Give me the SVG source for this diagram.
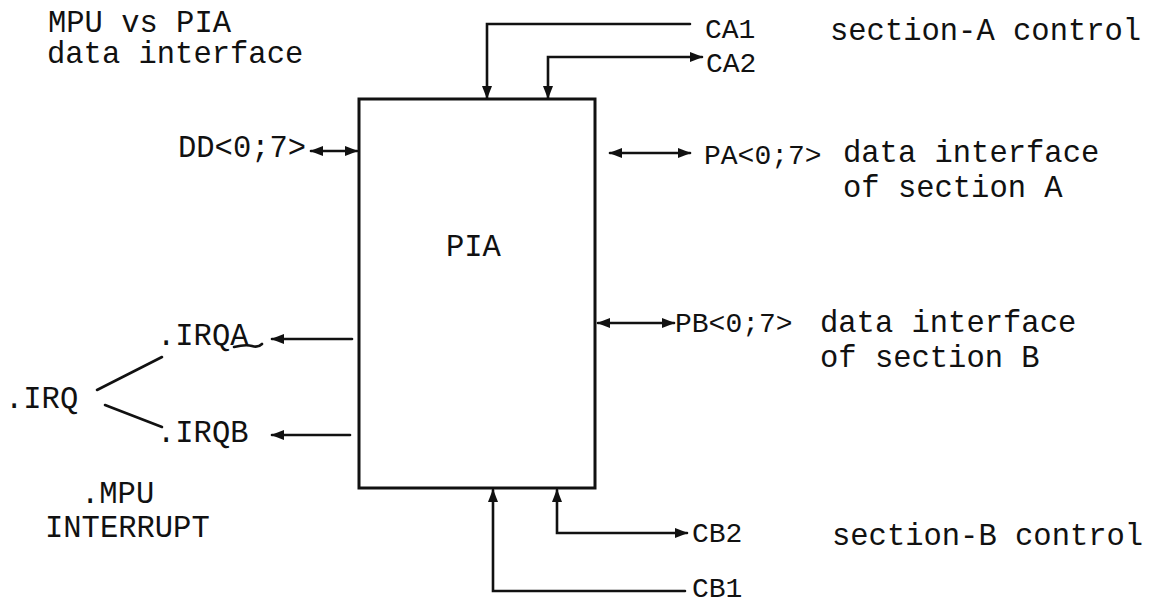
<svg xmlns="http://www.w3.org/2000/svg" width="1168" height="609" viewBox="0 0 1168 609">
<style>
text{font-family:"Liberation Mono","DejaVu Sans Mono",monospace;font-size:30.5px;fill:#111}
text.sm{font-size:28px}
.ln{fill:none;stroke:#111;stroke-width:2.6;stroke-linecap:round;stroke-linejoin:miter}
</style>
<defs>
<marker id="ah" viewBox="0 0 13 11" refX="12" refY="5.5" markerWidth="13" markerHeight="11" markerUnits="userSpaceOnUse" orient="auto-start-reverse">
<path d="M0,0.5 L13,5.5 L0,10.5 Z" fill="#111"/>
</marker>
</defs>
<rect width="1168" height="609" fill="#fff"/>
<g id="pia">
<rect x="359" y="99" width="236" height="389" fill="none" stroke="#111" stroke-width="3"/>
<text x="446" y="256">PIA</text>
</g>
<g id="connectors">
<path class="ln" d="M690,24 H487 V98" marker-end="url(#ah)"/>
<path class="ln" d="M548,98 V57 H702" marker-start="url(#ah)" marker-end="url(#ah)"/>
<path class="ln" d="M311,151 H357" marker-start="url(#ah)" marker-end="url(#ah)"/>
<path class="ln" d="M610,153 H690" marker-start="url(#ah)" marker-end="url(#ah)"/>
<path class="ln" d="M598,323 H674" marker-start="url(#ah)" marker-end="url(#ah)"/>
<path class="ln" d="M352,339 H272" marker-end="url(#ah)"/>
<path class="ln" d="M350,435 H272" marker-end="url(#ah)"/>
<path class="ln" d="M687,533 H557 V490" marker-start="url(#ah)" marker-end="url(#ah)"/>
<path class="ln" d="M685,591 H493 V490" marker-end="url(#ah)"/>
<path class="ln" d="M97,390 L162,357" stroke-width="3"/>
<path class="ln" d="M105,405 L162,427" stroke-width="3"/>
<path class="ln" d="M234,347 Q246,344 252,346 T262,344" stroke-width="1.5"/>
</g>
<g id="labels">
<text x="48" y="32">MPU vs PIA</text>
<text x="47" y="63">data interface</text>
<text x="830" y="40">section-A control</text>
<text class="sm" x="705" y="38">CA1</text>
<text class="sm" x="706" y="72">CA2</text>
<text x="178" y="157">DD&lt;0;7&gt;</text>
<text class="sm" x="704" y="164">PA&lt;0;7&gt;</text>
<text x="843" y="162">data interface</text>
<text x="843" y="197">of section A</text>
<text class="sm" x="675" y="332">PB&lt;0;7&gt;</text>
<text x="820" y="332">data interface</text>
<text x="820" y="367">of section B</text>
<text x="157" y="345">.IRQA</text>
<text x="157" y="442">.IRQB</text>
<text x="5" y="408">.IRQ</text>
<text x="81" y="503">.MPU</text>
<text x="45" y="537">INTERRUPT</text>
<text class="sm" x="692" y="542">CB2</text>
<text class="sm" x="692" y="597">CB1</text>
<text x="832" y="545">section-B control</text>
</g>
</svg>
